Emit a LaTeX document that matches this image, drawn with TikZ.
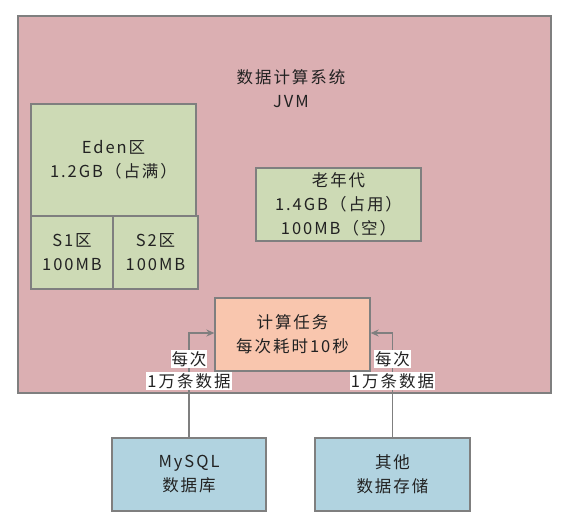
\documentclass[tikz,border=0pt]{standalone}
\usepackage{fontspec}
\setmainfont{Noto Sans CJK SC}[LetterSpace=12]
\usetikzlibrary{arrows.meta}
\definecolor{jvmpink}{HTML}{DBAFB2}
\definecolor{genGreen}{HTML}{CDDAB5}
\definecolor{taskOrange}{HTML}{F9C6AE}
\definecolor{storeBlue}{HTML}{B1D3E0}
\definecolor{edgeGray}{HTML}{7F7F7F}
\definecolor{txtGray}{HTML}{222222}
\begin{document}
\begin{tikzpicture}[x=1pt,y=-1pt,
  box/.style={draw=edgeGray, line width=1.3pt, rectangle, inner sep=0pt,
    align=center, text=txtGray, font=\fontsize{16.5}{24}\selectfont},
  conn/.style={draw=edgeGray, line width=1.2pt},
  arr/.style={conn, -{Stealth[length=8pt,width=7pt]}},
  lbl/.style={inner sep=0pt, align=center, text=txtGray, font=\fontsize{16.5}{24}\selectfont}]
\useasboundingbox (0,0) rectangle (570,524);
\fill[white] (0,0) rectangle (570,524);
% outer JVM
\node[box, fill=jvmpink, minimum width=533pt, minimum height=377pt] (jvm) at (284.5,204.5) {};
\node[lbl] (title) at (291,88.5) {数据计算系统\\JVM};
% generations
\node[box, fill=genGreen, minimum width=165pt, minimum height=112pt] (eden) at (113.5,160) {Eden区\\1.2GB（占满）};
\node[box, fill=genGreen, minimum width=82pt, minimum height=73pt] (s1) at (72,252.5) {S1区\\100MB};
\node[box, fill=genGreen, minimum width=85pt, minimum height=73pt] (s2) at (155.5,252.5) {S2区\\100MB};
\node[box, fill=genGreen, minimum width=165pt, minimum height=73pt] (old) at (338.5,204.5) {老年代\\1.4GB（占用）\\100MB（空）};
% task
\node[box, fill=taskOrange, minimum width=155pt, minimum height=73pt] (task) at (292.5,334.5) {计算任务\\每次耗时10秒};
% stores
\node[box, fill=storeBlue, minimum width=154pt, minimum height=73pt] (mysql) at (189,474.5) {MySQL\\数据库};
\node[box, fill=storeBlue, minimum width=155pt, minimum height=73pt] (other) at (392.5,474.5) {其他\\数据存储};
% connectors
\coordinate (lturn) at (mysql.north |- 0,333);
\coordinate (rturn) at (other.north |- 0,333);
\draw[arr] (mysql.north) -- (lturn) -- (lturn -| task.west);
\draw[arr] (other.north) -- (rturn) -- (rturn -| task.east);
% labels
\setlength{\fboxsep}{1pt}
\node[lbl] (llbl) at (189,370) {\colorbox{white}{每次}\\[-2pt]\colorbox{white}{1万条数据}};
\node[lbl] (rlbl) at (392.5,370) {\colorbox{white}{每次}\\[-2pt]\colorbox{white}{1万条数据}};
\end{tikzpicture}
\end{document}
